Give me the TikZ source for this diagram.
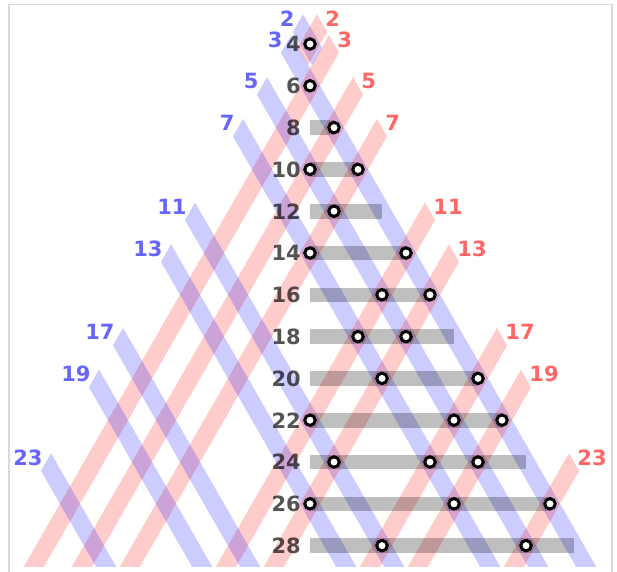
\documentclass[tikz,border=0pt]{standalone}
\usepackage{fontspec}
\setmainfont{DejaVu Sans}
\definecolor{bandblue}{RGB}{0,0,255}
\definecolor{bandred}{RGB}{255,0,0}
\definecolor{lblblue}{RGB}{102,102,255}
\definecolor{lblred}{RGB}{255,102,102}
\definecolor{framegray}{RGB}{218,218,218}
\begin{document}
\begin{tikzpicture}[x=1pt,y=-1pt,
  blueband/.style={fill=bandblue,fill opacity=0.2},
  redband/.style={fill=bandred,fill opacity=0.2},
  sumbar/.style={fill=black,fill opacity=0.25},
  dot/.style={circle,draw=black,fill=white,line width=3pt,minimum size=10.5pt,inner sep=0pt},
  numlbl/.style={anchor=east,inner sep=0pt,text=black,text opacity=0.67,font=\fontsize{21}{24}\selectfont\bfseries},
  bluelbl/.style={anchor=east,inner sep=0pt,text=lblblue,font=\fontsize{21}{24}\selectfont\bfseries},
  redlbl/.style={anchor=west,inner sep=0pt,text=lblred,font=\fontsize{21}{24}\selectfont\bfseries}]
\useasboundingbox (0,0) rectangle (617,571);
% frame
\draw[framegray,line width=1.5pt] (9,580) -- (9,4.5) -- (612,4.5) -- (612,580);
% bands
\begin{scope}
\clip (0,0) rectangle (617,566);
\foreach \p/\qe in {2/2.6,3/40,5/40,7/40,11/40,13/40,17/40,19/40,23/40}{
  \pgfmathsetmacro\pa{\p-0.42}
  \pgfmathsetmacro\pb{\p+0.42}
  \fill[blueband] ({310+12*(1-\pa)},{44+20.9*(\pa-3)}) -- ({310+12*(1-\pb)},{44+20.9*(\pb-3)})
     -- ({310+12*(\qe-\pb)},{44+20.9*(\pb+\qe-4)}) -- ({310+12*(\qe-\pa)},{44+20.9*(\pa+\qe-4)}) -- cycle;
  \fill[redband] ({310-12*(1-\pa)},{44+20.9*(\pa-3)}) -- ({310-12*(1-\pb)},{44+20.9*(\pb-3)})
     -- ({310-12*(\qe-\pb)},{44+20.9*(\pb+\qe-4)}) -- ({310-12*(\qe-\pa)},{44+20.9*(\pa+\qe-4)}) -- cycle;
}
\end{scope}
% bars for the even numbers
\foreach \s in {8,10,...,28}{
  \fill[sumbar] (310,{44+20.9*(\s-4)-7.3}) rectangle ({310+12*(\s-6)},{44+20.9*(\s-4)+7.3});
}
% partitions
\foreach \s/\d [count=\i] in {4/0,6/0,8/2,10/0,10/4,12/2,14/0,14/8,16/6,16/10,18/4,18/8,20/6,20/14,
  22/0,22/12,22/16,24/2,24/10,24/14,26/0,26/12,26/20,28/6,28/18}{
  \node[dot] (c\i) at ({310+12*\d},{44+20.9*(\s-4)}) {};
}
% even number labels
\foreach \s in {4,6,...,28}{
  \node[numlbl] (n\s) at (301,{44+20.9*(\s-4)}) {\s};
}
% prime labels
\foreach \p in {2,3,5,7,11,13,17,19,23}{
  \pgfmathsetmacro\pa{\p-0.4}
  \node[bluelbl] (bp\p) at ({310+12*(1-\pa)-8},{44+20.9*(\pa-3)+4}) {\p};
  \node[redlbl] (rp\p) at ({310-12*(1-\pa)+8},{44+20.9*(\pa-3)+4}) {\p};
}
\end{tikzpicture}
\end{document}
